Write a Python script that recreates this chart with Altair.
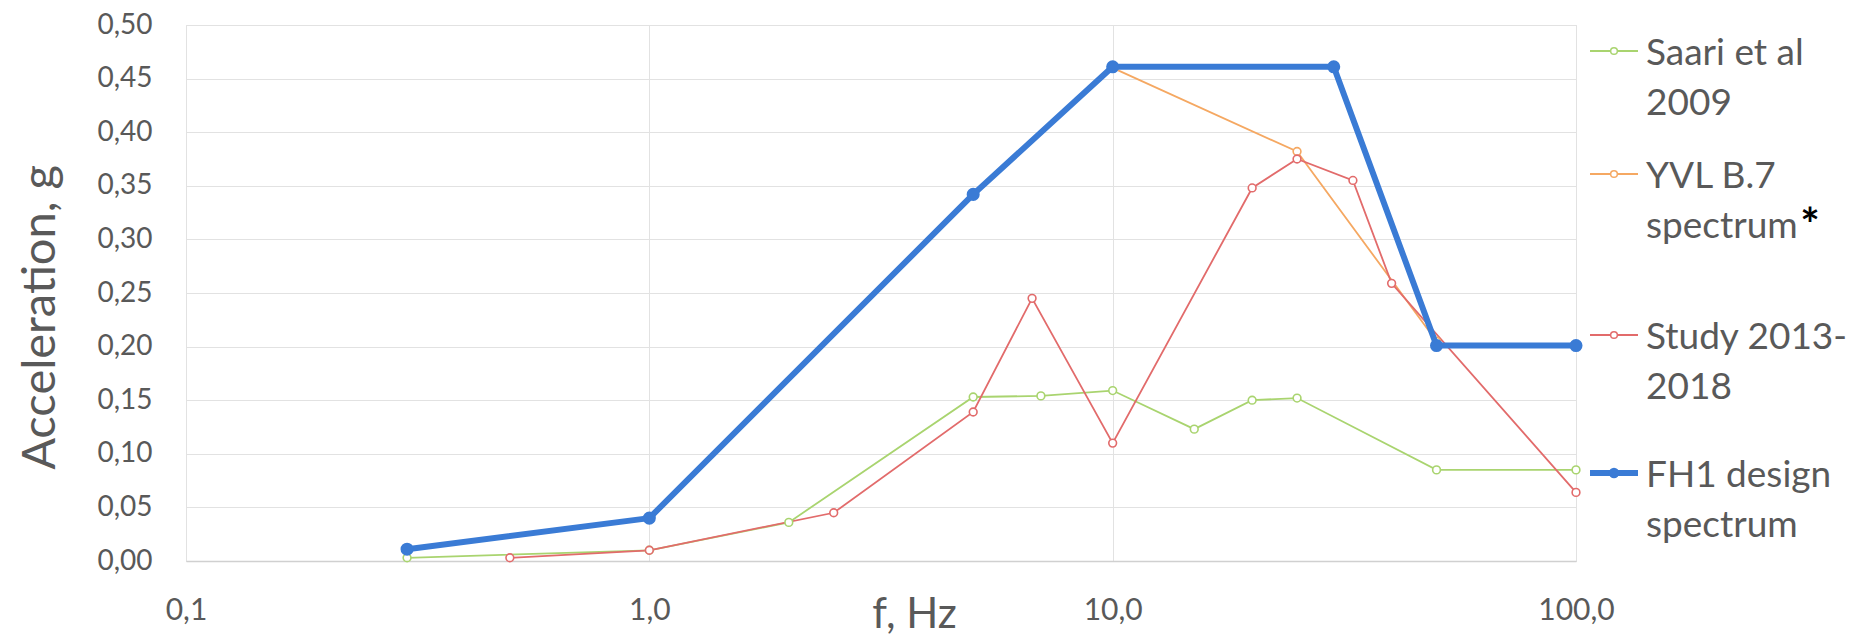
import altair as alt
import pandas as pd

# ---- data ----
series_names = ["Saari et al 2009", "YVL B.7 spectrum", "Study 2013-2018", "FH1 design spectrum"]
series_colors = ["#A9D46F", "#F5A862", "#E26B6B", "#3A7BD5"]

saari_f = [0.3, 1, 2, 5, 7, 10, 15, 20, 25, 50, 100]
saari_a = [0.003, 0.010, 0.036, 0.153, 0.154, 0.159, 0.123, 0.150, 0.152, 0.085, 0.085]

yvl_f = [10, 25, 50]
yvl_a = [0.460, 0.382, 0.205]

study_f = [0.5, 1, 2.5, 5, 6.7, 10, 20, 25, 33, 40, 100]
study_a = [0.003, 0.010, 0.045, 0.139, 0.245, 0.110, 0.348, 0.375, 0.355, 0.259, 0.064]

fh1_f = [0.3, 1, 5, 10, 30, 50, 100]
fh1_a = [0.011, 0.040, 0.342, 0.461, 0.461, 0.201, 0.201]

x_ticks = [0.1, 1, 10, 100]
y_ticks = [0.0, 0.05, 0.10, 0.15, 0.20, 0.25, 0.30, 0.35, 0.40, 0.45, 0.50]

legend_lines = ["Saari et al\n2009", "YVL B.7\nspectrum", "Study 2013-\n2018", "FH1 design\nspectrum"]

# ---- tables ----
rows = []
for name, fs, accs in zip(series_names, [saari_f, yvl_f, study_f, fh1_f],
                          [saari_a, yvl_a, study_a, fh1_a]):
    for f, a in zip(fs, accs):
        rows.append({"series": name, "f": f, "acc": a})
df = pd.DataFrame(rows)
thin_df = df[df.series != series_names[3]]
thick_df = df[df.series == series_names[3]]

leg_df = pd.DataFrame({
    "series": series_names,
    "slot": list(range(len(series_names))),
    "label": legend_lines,
})

W, H = 1390, 536
FONT = "Lato"
GREY = "#595959"

color = alt.Color("series:N", scale=alt.Scale(domain=series_names, range=series_colors), legend=None)

x_enc = alt.X(
    "f:Q",
    scale=alt.Scale(type="log", domain=[0.1, 100], nice=False),
    axis=alt.Axis(
        values=x_ticks, grid=True, gridColor="#E2E2E2", ticks=False, tickSize=0,
        domain=True, domainColor="#D0D0D0", domainWidth=1.5,
        labelExpr="replace(format(datum.value, '.1f'), '.', ',')",
        labelFontSize=30, labelColor=GREY, labelFont=FONT, labelPadding=34,
        labelFlush=False, labelOverlap=False,
        title="f, Hz", titleFontSize=42, titleFont=FONT, titleColor=GREY,
        titleFontWeight="normal", titleX=728, titleY=66, titleBaseline="alphabetic",
        titleAlign="center",
    ),
)
y_enc = alt.Y(
    "acc:Q",
    scale=alt.Scale(domain=[0, 0.5], nice=False),
    axis=alt.Axis(
        values=y_ticks, grid=True, gridColor="#E2E2E2", ticks=False, tickSize=0,
        domain=False,
        labelExpr="replace(format(datum.value, '.2f'), '.', ',')",
        labelFontSize=28, labelColor=GREY, labelFont=FONT, labelPadding=34,
        labelOverlap=False,
        title="Acceleration, g", titleFontSize=47, titleFont=FONT, titleColor=GREY,
        titleFontWeight="normal", titleX=-132, titleY=292, titleBaseline="alphabetic",
        titleAlign="center", titleAngle=270,
    ),
)

thin_lines = alt.Chart(thin_df).mark_line(strokeWidth=1.8).encode(
    x=x_enc, y=y_enc, color=color, detail="series:N")
thin_pts = alt.Chart(thin_df).mark_point(filled=False, fill="white", fillOpacity=1,
                                         size=60, strokeWidth=1.6, opacity=1).encode(
    x="f:Q", y="acc:Q", color=color)
thick_line = alt.Chart(thick_df).mark_line(strokeWidth=6, strokeJoin="round", strokeCap="round").encode(
    x="f:Q", y="acc:Q", color=color)
thick_pts = alt.Chart(thick_df).mark_point(filled=True, size=170, opacity=1).encode(
    x="f:Q", y="acc:Q", color=color)

main = alt.layer(thin_lines, thin_pts, thick_line, thick_pts)

# ---- legend (drawn to the right of the plot) ----
slot_y = alt.Y("slot:Q", scale=alt.Scale(domain=[0, 1, 2, 3], range=[26, 149, 310, 448]), axis=None)
leg_base = alt.Chart(leg_df)
leg_rule_thin = leg_base.transform_filter(alt.datum.slot < 3).mark_rule(strokeWidth=1.8).encode(
    x=alt.value(W + 14), x2=alt.value(W + 62), y=slot_y, color=color)
leg_rule_thick = leg_base.transform_filter(alt.datum.slot == 3).mark_rule(strokeWidth=6).encode(
    x=alt.value(W + 14), x2=alt.value(W + 62), y=slot_y, color=color)
leg_pt_thin = leg_base.transform_filter(alt.datum.slot < 3).mark_point(
    filled=False, fill="white", fillOpacity=1, size=45, strokeWidth=1.5, opacity=1).encode(
    x=alt.value(W + 38), y=slot_y, color=color)
leg_pt_thick = leg_base.transform_filter(alt.datum.slot == 3).mark_point(
    filled=True, size=110, opacity=1).encode(
    x=alt.value(W + 38), y=slot_y, color=color)
leg_text = leg_base.mark_text(align="left", baseline="alphabetic", dy=14, fontSize=37,
                              font=FONT, color=GREY, lineBreak="\n", lineHeight=50).encode(
    x=alt.value(W + 70), y=slot_y, text="label:N")
leg_star = leg_base.transform_filter(alt.datum.slot == 1).mark_text(
    align="center", baseline="alphabetic", dy=67, fontSize=46, fontWeight="bold",
    font=FONT, color="black").encode(
    x=alt.value(W + 234), y=slot_y, text=alt.value("*"))

legend = alt.layer(leg_rule_thin, leg_rule_thick, leg_pt_thin, leg_pt_thick, leg_text, leg_star)

chart = alt.layer(main, legend).resolve_scale(y="independent").properties(
    width=W, height=H,
    autosize=alt.AutoSizeParams(type="none"),
    padding={"left": 178, "top": 17, "right": 274, "bottom": 75},
).configure_view(stroke="#D9D9D9", strokeWidth=1).configure(background="white")

chart.save("out.html", embed_options={"renderer": "svg", "actions": False})
